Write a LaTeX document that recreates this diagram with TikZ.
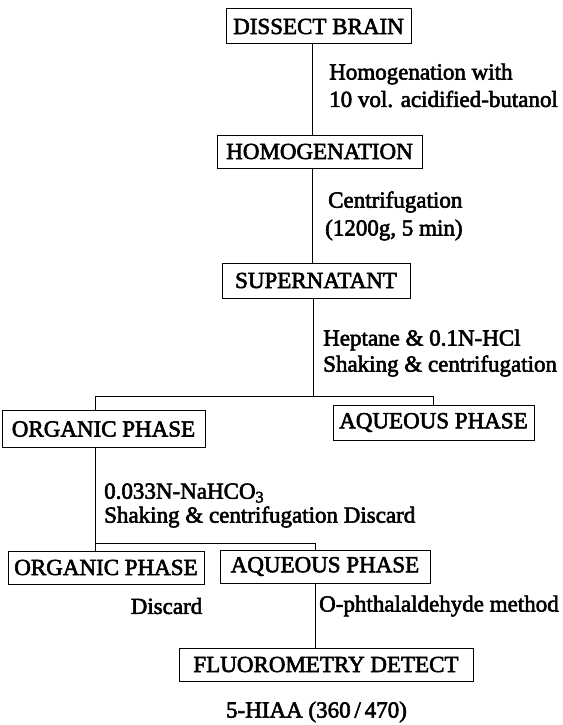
\documentclass[tikz,border=0pt]{standalone}
\usepackage{fontspec}
\setmainfont{Liberation Serif}[BoldFont=Liberation Serif,BoldFeatures={FakeBold=2.5}]
\begin{document}
\begin{tikzpicture}[x=1pt,y=-1pt,
  txt/.style={inner sep=0pt,font=\fontsize{23}{27}\selectfont\bfseries},
  box/.style={txt,draw,line width=1pt,rectangle},
  lbl/.style={txt,anchor=west},
  ln/.style={line width=1pt}]
\useasboundingbox (0,0) rectangle (562,725);
\node[box,minimum width=185pt,minimum height=35pt] (dissect) at (318.5,26.5) {DISSECT BRAIN};
\node[box,minimum width=205pt,minimum height=33pt] (homog) at (319.5,151.5) {HOMOGENATION};
\node[box,minimum width=188pt,minimum height=35pt] (super) at (316,280.5) {SUPERNATANT};
\node[box,minimum width=203pt,minimum height=37pt] (org1) at (103.5,429) {ORGANIC PHASE};
\node[box,minimum width=201pt,minimum height=35pt] (aq1) at (433.5,422.5) {AQUEOUS PHASE};
\node[box,minimum width=196pt,minimum height=33pt] (org2) at (106,567.5) {ORGANIC PHASE};
\node[box,minimum width=210pt,minimum height=33pt] (aq2) at (325,566.5) {AQUEOUS PHASE};
\node[box,minimum width=294pt,minimum height=33pt] (fluo) at (326,664.5) {FLUOROMETRY DETECT};
\node[lbl] (t1) at (329,74) {Homogenation with};
\node[lbl] (t2) at (329,99) {10 vol. acidified-butanol};
\node[lbl] (t3) at (328,202) {Centrifugation};
\node[lbl] (t4) at (325,230) {(1200g, 5 min)};
\node[lbl] (t5) at (323,340) {Heptane \& 0.1N-HCl};
\node[lbl] (t6) at (323,366) {Shaking \& centrifugation};
\node[lbl] (t7) at (104,493) {0.033N-NaHCO\textsubscript{3}};
\node[lbl] (t8) at (104,517) {Shaking \& centrifugation Discard};
\node[txt] (t9) at (166.5,606) {Discard};
\node[lbl] (t10) at (319,606) {O-phthalaldehyde method};
\node[txt] (t11) at (316.5,712) {5-HIAA (360\,/\,470)};
\coordinate (s1) at (313,396);
\coordinate (s1l) at (95,396);
\coordinate (s1r) at (433,396);
\coordinate (s2) at (95,543);
\coordinate (s2r) at (315,543);
\draw[ln] (dissect.south -| 312,0) -- (homog.north -| 312,0);
\draw[ln] (homog.south -| 312,0) -- (super.north -| 312,0);
\draw[ln] (super.south -| s1) -- (s1);
\draw[ln] (org1.north -| s1l) -- (s1l) -- (s1r) -- (aq1.north -| s1r);
\draw[ln] (org1.south -| s2) -- (org2.north -| s2);
\draw[ln] (s2) -- (s2r) -- (aq2.north -| s2r);
\draw[ln] (aq2.south -| s2r) -- (fluo.north -| s2r);
\end{tikzpicture}
\end{document}
